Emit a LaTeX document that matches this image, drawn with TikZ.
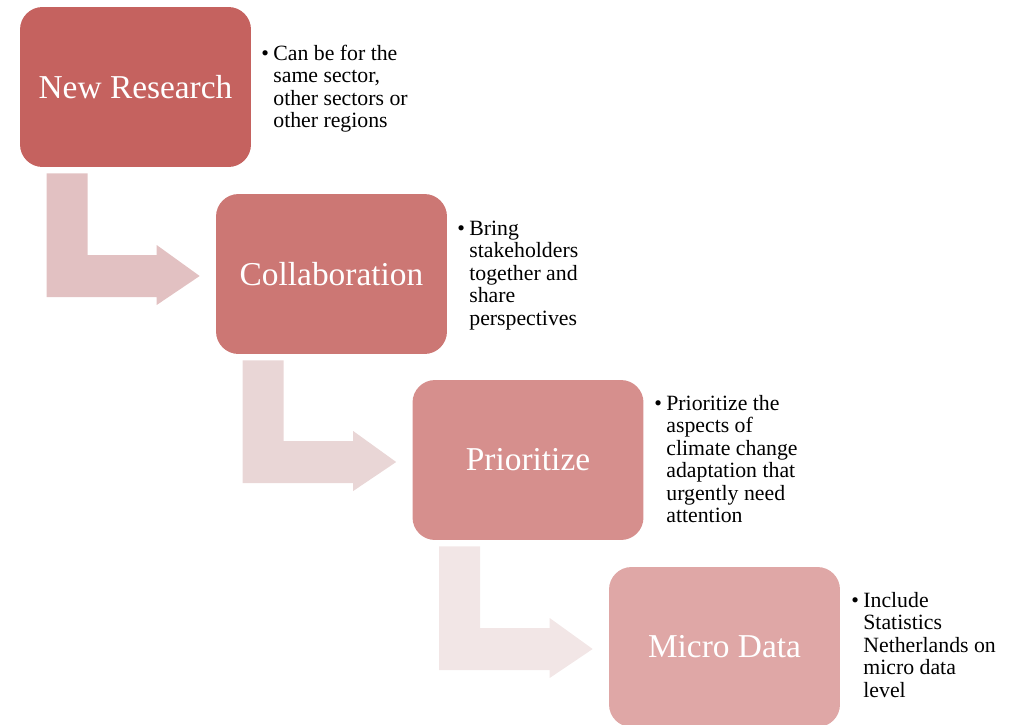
\documentclass[tikz,border=0pt]{standalone}
\usepackage{fontspec}
\setmainfont{Liberation Serif}
\usetikzlibrary{calc}

\definecolor{boxA}{HTML}{C5625F}
\definecolor{boxB}{HTML}{CC7774}
\definecolor{boxC}{HTML}{D68F8D}
\definecolor{boxD}{HTML}{DFA7A6}
\definecolor{arrowA}{HTML}{E2C1C2}
\definecolor{arrowB}{HTML}{E9D6D6}
\definecolor{arrowC}{HTML}{F2E6E6}

\newcommand{\notelines}[1]{%
  \begin{tabular}{@{}l@{\hspace{2.5pt}}l@{}}\textbullet &
  \begin{tabular}[t]{@{}l@{}}#1\end{tabular}\end{tabular}}

\tikzset{
  stepbox/.style={rounded corners=0.45cm, minimum width=4.62cm, minimum height=3.2cm,
    inner sep=0pt, text=white, font=\fontsize{19}{22}\selectfont},
  notetext/.style={anchor=north west, inner sep=0pt, align=left,
    font=\fontsize{12.4}{12.8}\selectfont}
}

\begin{document}
\begin{tikzpicture}[x=0.02cm, y=-0.02cm]
\useasboundingbox (0,0) rectangle (1024,724);
\node [stepbox, fill=boxA] (nr) at (135.5,87) {New Research};
\node [stepbox, fill=boxB] (co) at (331.5,274) {Collaboration};
\node [stepbox, fill=boxC] (pr) at (528,460) {Prioritize};
\node [stepbox, fill=boxD] (md) at (724.5,647) {Micro Data};
\node [notetext] (nrnote) at (261,44) {\notelines{Can be for the\\same sector,\\other sectors or\\other regions}};
\node [notetext] (conote) at (457,219) {\notelines{Bring\\stakeholders\\together and\\share\\perspectives}};
\node [notetext] (prnote) at (654,394) {\notelines{Prioritize the\\aspects of\\climate change\\adaptation that\\urgently need\\attention}};
\node [notetext] (mdnote) at (851,591) {\notelines{Include\\Statistics\\Netherlands on\\micro data\\level}};
% bent arrows between the steps
\foreach \a/\b/\c in {nr/co/arrowA, co/pr/arrowB, pr/md/arrowC}
  \fill [\c] ($(\a.south west)+(27,6)$) -- ($(\a.south west)+(68,6)$)
    |- ($(\b.west)+(-59,-19)$) -- ($(\b.west)+(-59,-29)$)
    -- ($(\b.west)+(-16,2)$) -- ($(\b.west)+(-59,31)$)
    -- ($(\b.west)+(-59,23)$) -| cycle;
\end{tikzpicture}
\end{document}
